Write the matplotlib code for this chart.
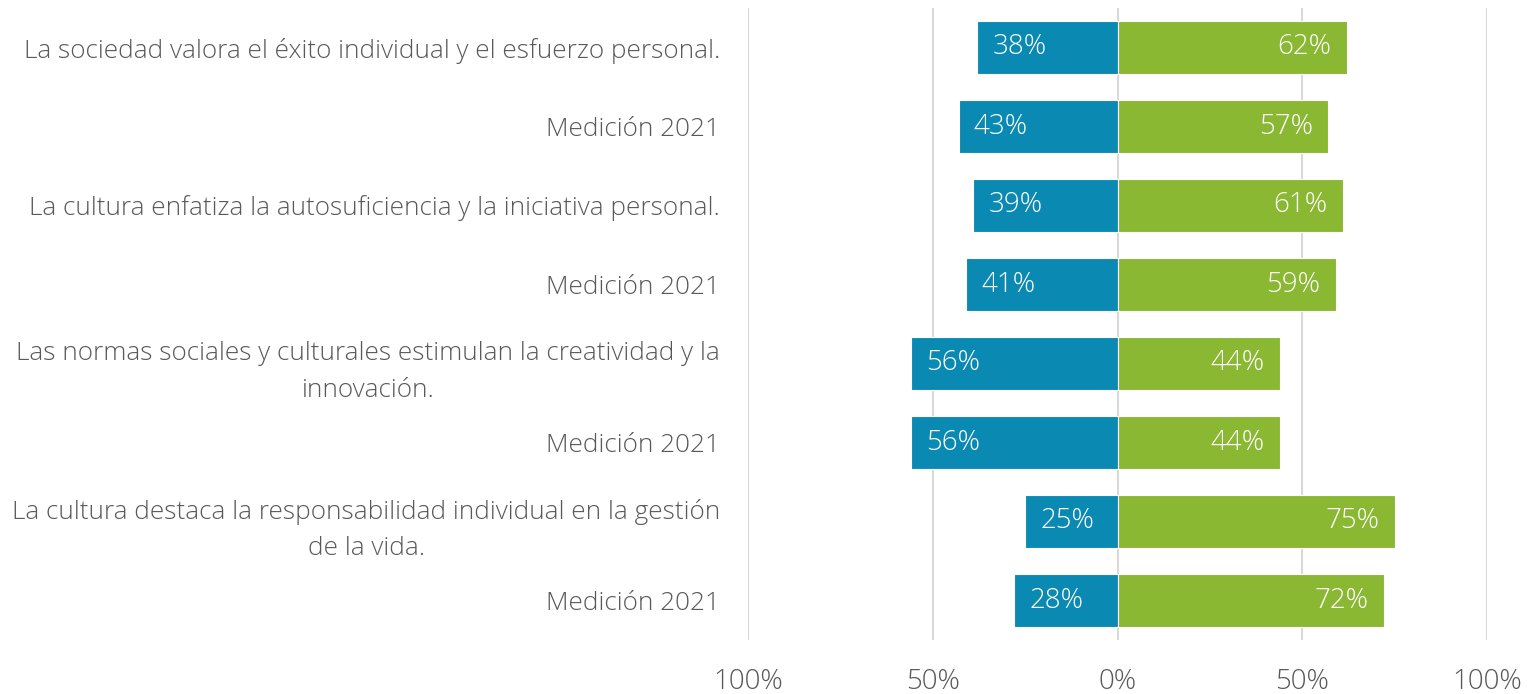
import matplotlib.pyplot as plt

statements = [
    "La sociedad valora el éxito individual y el esfuerzo personal.",
    "Medición 2021",
    "La cultura enfatiza la autosuficiencia y la iniciativa personal.",
    "Medición 2021",
    "Las normas sociales y culturales estimulan la creatividad y la\ninnovación.",
    "Medición 2021",
    "La cultura destaca la responsabilidad individual en la gestión\nde la vida.",
    "Medición 2021",
]
no_vals = [38, 43, 39, 41, 56, 56, 25, 28]
yes_vals = [62, 57, 61, 59, 44, 44, 75, 72]
tick_vals = [-100, -50, 0, 50, 100]
tick_labels = ["100%", "50%", "0%", "50%", "100%"]

blue = "#0A89B3"
green = "#8AB833"
text_gray = "#595959"

plt.rcParams['font.family'] = ['Open Sans', 'DejaVu Sans']

fig = plt.figure(figsize=(15.3, 6.94), dpi=100)
ax = fig.add_axes([748 / 1530, 1 - 640 / 694, (1487 - 748) / 1530, (640 - 8) / 694])

y = list(range(len(statements)))
neg = [-v for v in no_vals]
ax.barh(y, neg, height=0.66, color=blue, edgecolor="white", linewidth=0.8, zorder=3)
ax.barh(y, yes_vals, height=0.66, color=green, edgecolor="white", linewidth=0.8, zorder=3)

for i in y:
    ax.annotate(f"{no_vals[i]}%", (neg[i], i), xytext=(11, 0), textcoords="offset points",
                ha="left", va="center", color="white", fontsize=20, fontweight="light", zorder=4)
    ax.annotate(f"{yes_vals[i]}%", (yes_vals[i], i), xytext=(-11, 0), textcoords="offset points",
                ha="right", va="center", color="white", fontsize=20, fontweight="light", zorder=4)

ax.set_xlim(-100, 100)
ax.set_ylim(len(statements) - 0.5, -0.5)
ax.set_xticks(tick_vals)
ax.set_xticklabels(tick_labels, fontsize=20, color=text_gray, fontweight="light")
ax.set_yticks(y)
ax.set_yticklabels(statements, fontsize=18.8, color=text_gray, fontweight="light",
                   multialignment="center", linespacing=1.6)
ax.tick_params(axis="both", length=0)
ax.tick_params(axis="x", pad=20)
ax.tick_params(axis="y", pad=20)
ax.grid(axis="x", color="#D9D9D9", linewidth=1.5, zorder=0)
for s in ax.spines.values():
    s.set_visible(False)

fig.savefig("out.png", dpi=100)
